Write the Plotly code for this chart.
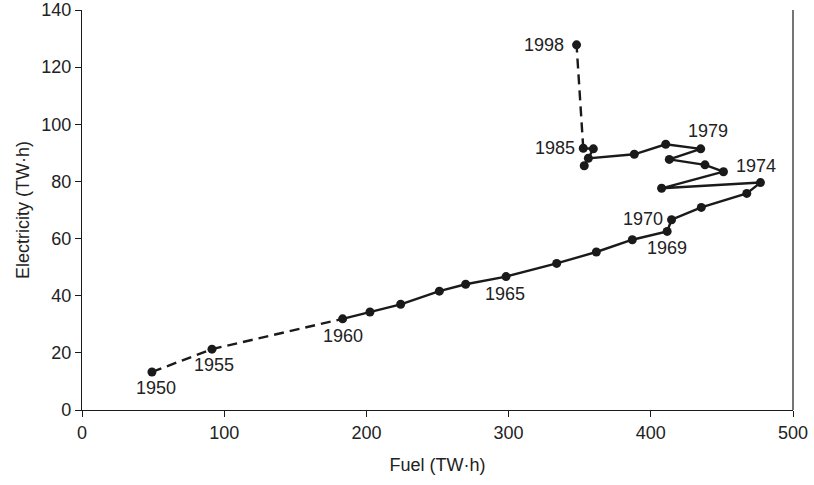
import plotly.graph_objects as go

# Data
years = [1950, 1955, 1960, 1961, 1962, 1963, 1964, 1965, 1966, 1967, 1968, 1969,
         1970, 1972, 1973, 1974, 1975, 1976, 1977, 1978, 1979, 1980, 1981, 1982,
         1983, 1984, 1985, 1998]
fuel = [49.2, 91.4, 183.3, 202.5, 224.1, 251.3, 269.8, 298.2, 333.8, 361.7, 387.0, 411.5,
        414.6, 435.5, 467.5, 477.1, 407.6, 451.1, 438.1, 413.0, 435.1, 410.5, 388.4, 356.1,
        353.2, 359.6, 352.5, 347.8]
electricity = [13.3, 21.3, 31.9, 34.3, 37.0, 41.6, 44.0, 46.7, 51.3, 55.3, 59.6, 62.5,
               66.6, 70.9, 75.8, 79.6, 77.6, 83.4, 85.8, 87.7, 91.4, 93.0, 89.5, 88.1,
               85.5, 91.4, 91.6, 127.8]
labeled_years = [1950, 1955, 1960, 1965, 1969, 1970, 1974, 1979, 1985, 1998]

x_ticks = [0, 100, 200, 300, 400, 500]
y_ticks = [0, 20, 40, 60, 80, 100, 120, 140]

# label placement (pixel offsets, styling)
label_offsets = {
    1950: (4, -16), 1955: (2, -16), 1960: (0, -17), 1965: (-1, -17),
    1969: (0, -17), 1970: (-29, 1), 1974: (-4, 17), 1979: (7, 18),
    1985: (-28, 0), 1998: (-33, 0),
}

INK = "#1a1a1a"
TXT = "#222222"
FONT = "Liberation Sans, Arial, sans-serif"
DASH = "10px,6px"

i1960 = years.index(1960)
i1985 = years.index(1985)

fig = go.Figure()
# dashed early segment 1950-1960
fig.add_trace(go.Scatter(x=fuel[:i1960 + 1], y=electricity[:i1960 + 1], mode="lines",
                         line=dict(color=INK, width=2.4, dash=DASH), hoverinfo="skip"))
# solid main segment
fig.add_trace(go.Scatter(x=fuel[i1960:i1985 + 1], y=electricity[i1960:i1985 + 1], mode="lines",
                         line=dict(color=INK, width=2.4), hoverinfo="skip"))
# dashed late segment 1985-1998
fig.add_trace(go.Scatter(x=fuel[i1985:], y=electricity[i1985:], mode="lines",
                         line=dict(color=INK, width=2.4, dash=DASH), hoverinfo="skip"))
# markers
fig.add_trace(go.Scatter(x=fuel, y=electricity, mode="markers",
                         marker=dict(color=INK, size=9), text=[str(y) for y in years],
                         hoverinfo="text"))

for yr in labeled_years:
    i = years.index(yr)
    dx, dy = label_offsets[yr]
    fig.add_annotation(x=fuel[i], y=electricity[i], text=str(yr), showarrow=False,
                       xanchor="center", yanchor="middle", xshift=dx, yshift=dy,
                       font=dict(family=FONT, size=18, color=TXT))

axis_common = dict(showgrid=False, zeroline=False, showline=True, linecolor=INK, linewidth=1.2,
                   ticks="outside", ticklen=6, tickwidth=1.2, tickcolor=INK, automargin=False,
                   tickfont=dict(family=FONT, size=18, color=TXT))

fig.update_layout(
    width=814, height=485,
    margin=dict(l=82, r=21, t=10, b=75),
    paper_bgcolor="white", plot_bgcolor="white",
    showlegend=False,
    xaxis=dict(range=[0, 500], tickvals=x_ticks, title=dict(text="Fuel (TW·h)", standoff=16,
               font=dict(family=FONT, size=18, color=TXT)), **axis_common),
    yaxis=dict(range=[0, 140], tickvals=y_ticks, title=dict(text="Electricity (TW·h)", standoff=6,
               font=dict(family=FONT, size=18, color=TXT)), **axis_common),
)
# right border line
fig.add_shape(type="line", xref="paper", yref="paper", x0=1, x1=1, y0=0, y1=1,
              line=dict(color=INK, width=1.2))

# remove the browser's default body margin so the figure sits at the window's corner
fig.write_html("out.html", config={"displayModeBar": False},
               post_script="document.body.style.margin='0';document.body.style.overflow='hidden';")
